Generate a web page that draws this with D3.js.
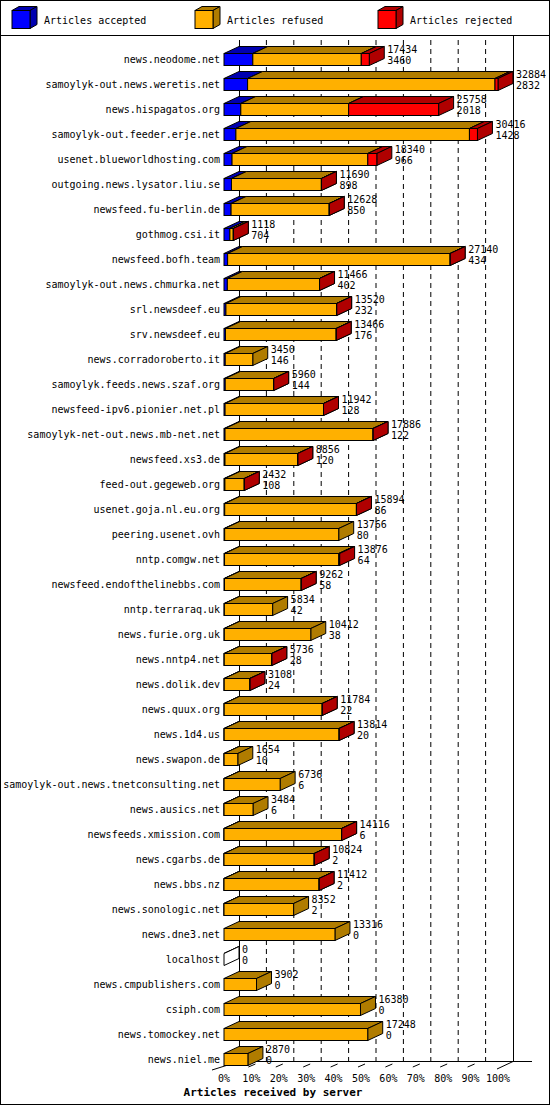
<!DOCTYPE html>
<html><head><meta charset="utf-8">
<script src="https://cdn.jsdelivr.net/npm/d3@7"></script>
<style>body{margin:0;background:#fff}text{font-family:"DejaVu Sans Mono",monospace;font-size:10px}</style>
</head><body><svg id="chart"></svg>
<script>
// data
var servers = ["news.neodome.net","samoylyk-out.news.weretis.net","news.hispagatos.org","samoylyk-out.feeder.erje.net","usenet.blueworldhosting.com","outgoing.news.lysator.liu.se","newsfeed.fu-berlin.de","gothmog.csi.it","newsfeed.bofh.team","samoylyk-out.news.chmurka.net","srl.newsdeef.eu","srv.newsdeef.eu","news.corradoroberto.it","samoylyk.feeds.news.szaf.org","newsfeed-ipv6.pionier.net.pl","samoylyk-net-out.news.mb-net.net","newsfeed.xs3.de","feed-out.gegeweb.org","usenet.goja.nl.eu.org","peering.usenet.ovh","nntp.comgw.net","newsfeed.endofthelinebbs.com","nntp.terraraq.uk","news.furie.org.uk","news.nntp4.net","news.dolik.dev","news.quux.org","news.1d4.us","news.swapon.de","samoylyk-out.news.tnetconsulting.net","news.ausics.net","newsfeeds.xmission.com","news.cgarbs.de","news.bbs.nz","news.sonologic.net","news.dne3.net","localhost","news.cmpublishers.com","csiph.com","news.tomockey.net","news.niel.me"]
var totals = [17434,32884,25758,30416,18340,11690,12628,1118,27140,11466,13520,13466,3450,5960,11942,17886,8856,2432,15894,13766,13876,9262,5834,10412,5736,3108,11784,13814,1654,6736,3484,14116,10824,11412,8352,13316,0,3902,16380,17248,2870]
var accepted = [3460,2832,2018,1428,966,898,850,704,434,402,232,176,146,144,128,122,120,108,86,80,64,58,42,38,28,24,22,20,10,6,6,6,2,2,2,0,0,0,0,0,0]
var rejected = [960,360,10800,960,1080,1,1,1,1,1,1,1,0,1,1,1,1,1,1,0,100,1,0,0,1,1,1,1,0,0,0,1,1,1,0,0,0,0,0,0,0]
var ticks = [0,10,20,30,40,50,60,70,80,90,100]
var legendItems = ["Articles accepted","Articles refused","Articles rejected"]

var W = 550, H = 1105, dx = 15, dy = 7, bh = 12
var svg = d3.select("#chart").attr("width", W).attr("height", H)
var front = ["#0000ff","#ffb000","#ff0000"], dark = ["#0000b0","#b07c00","#b00000"]

var x = d3.scaleLinear().domain([0, d3.max(totals)]).range([224, 498])
var xp = d3.scaleLinear().domain([0, 100]).range([224, 498])
var y = d3.scalePoint().domain(servers).range([53, 1053])

svg.append("rect").attr("x",0.5).attr("y",0.5).attr("width",W-1).attr("height",H-1).attr("fill","none").attr("stroke","#000")
svg.append("line").attr("x1",0).attr("x2",W).attr("y1",35.5).attr("y2",35.5).attr("stroke","#000")

function box(g, x0, x1, yt, i) {
  var yb = yt + bh
  g.append("path").attr("d", `M${x0},${yt}L${x0+dx},${yt-dy}L${x1+dx},${yt-dy}L${x1},${yt}Z`).attr("fill", dark[i]).attr("stroke","#000")
  g.append("path").attr("d", `M${x1},${yt}L${x1+dx},${yt-dy}L${x1+dx},${yb-dy}L${x1},${yb}Z`).attr("fill", dark[i]).attr("stroke","#000")
  g.append("rect").attr("x", x0).attr("y", yt).attr("width", x1-x0).attr("height", bh).attr("fill", front[i]).attr("stroke","#000")
}

// legend
legendItems.forEach(function(t, i) {
  var lx = 12 + i*183
  var g = svg.append("g")
  g.append("path").attr("d", `M${lx},10.5L${lx+7},6.5L${lx+25},6.5L${lx+18},10.5Z`).attr("fill", dark[i]).attr("stroke","#000")
  g.append("path").attr("d", `M${lx+18},10.5L${lx+25},6.5L${lx+25},24.5L${lx+18},28.5Z`).attr("fill", dark[i]).attr("stroke","#000")
  g.append("rect").attr("x", lx).attr("y", 10.5).attr("width", 18).attr("height", 18).attr("fill", front[i]).attr("stroke","#000")
  g.append("text").attr("x", lx+32).attr("y", 24).text(t)
})

// grid + walls
var floorY = 1061.5
ticks.slice(1, 10).forEach(function(t) {
  svg.append("line").attr("x1", xp(t)+dx).attr("x2", xp(t)+dx).attr("y1", 40).attr("y2", floorY)
    .attr("stroke","#000").attr("stroke-dasharray","5,4")
})
svg.append("line").attr("x1",239.5).attr("x2",239.5).attr("y1",40).attr("y2",floorY).attr("stroke","#000")
svg.append("line").attr("x1",513.5).attr("x2",513.5).attr("y1",35).attr("y2",floorY).attr("stroke","#000")
svg.append("line").attr("x1",224).attr("x2",532).attr("y1",floorY).attr("y2",floorY).attr("stroke","#000")
svg.append("line").attr("x1",212).attr("x2",239).attr("y1",1070).attr("y2",floorY).attr("stroke","#000")
svg.append("line").attr("x1",497).attr("x2",513).attr("y1",1069).attr("y2",floorY).attr("stroke","#000")
ticks.slice(1, 10).forEach(function(t) {
  svg.append("line").attr("x1", xp(t)-3).attr("x2", xp(t)+4).attr("y1", 1067).attr("y2", 1064).attr("stroke","#000")
})
svg.selectAll(".tl").data(ticks).enter().append("text")
  .attr("x", d => xp(d)).attr("y", 1082).attr("text-anchor","middle").text(d => d + "%")
svg.append("text").attr("x", 273).attr("y", 1096).attr("text-anchor","middle")
  .style("font-weight","bold").style("font-size","11px").text("Articles received by server")

// bars
servers.forEach(function(s, i) {
  var yt = Math.round(y(s)) + 0.5
  var g = svg.append("g")
  var a = accepted[i], r = rejected[i], f = totals[i] - a - r
  var c0 = x(0), c1 = x(a), c2 = x(a + f), c3 = x(totals[i])
  if (a > 0) box(g, c0, c1, yt, 0)
  if (f > 0 || totals[i] == 0) box(g, c1, c2, yt, 1)
  if (r > 0) box(g, c2, c3, yt, 2)
  if (totals[i] == 0) g.selectAll("*").attr("fill","#fff")
  svg.append("text").attr("x", 220).attr("y", yt + 9).attr("text-anchor","end").text(s)
  svg.append("text").attr("x", c3 + dx + 3).attr("y", yt - 1).text(totals[i])
  svg.append("text").attr("x", c3 + dx + 3).attr("y", yt + 10).text(a)
})
</script></body></html>
